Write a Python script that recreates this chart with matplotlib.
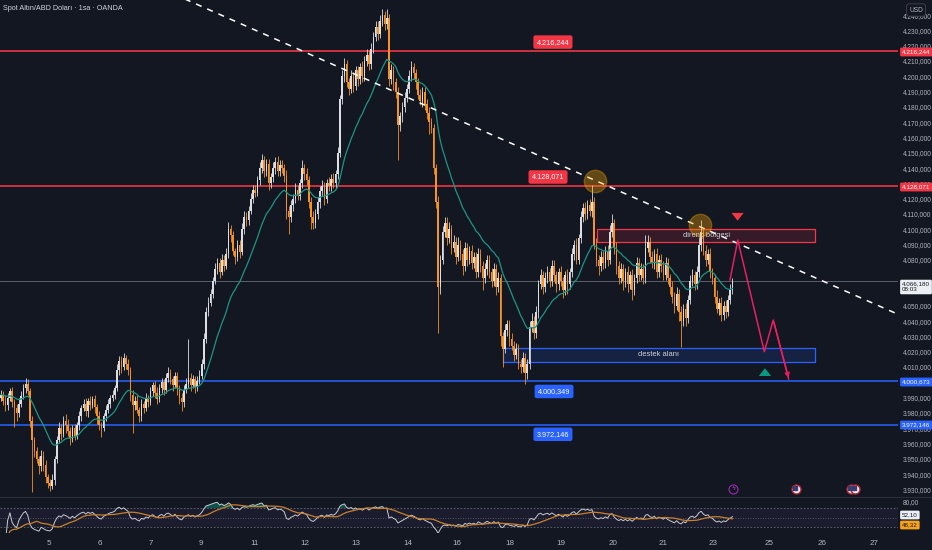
import matplotlib
matplotlib.use("Agg")
import matplotlib.pyplot as plt
import numpy as np
import pandas as pd

plt.rcParams["font.family"] = ["Liberation Sans Narrow", "Liberation Sans", "DejaVu Sans"]

BG = "#131722"
UP = "#dcdee4"
DOWN = "#f7931e"
RED = "#f23645"
BLUE = "#2962ff"
TXT = "#b2b5be"

# hourly closes (one per bar, left to right)
closes = [
    3992, 3988, 3985, 3990, 3994, 3987, 3983, 3980, 3986, 3991,
    3996, 3999, 3994, 3975, 3962, 3955, 3950, 3945, 3952, 3946,
    3938, 3934, 3932, 3936, 3950, 3962, 3970, 3966, 3975, 3972,
    3968, 3963, 3970, 3965, 3972, 3978, 3983, 3986, 3981, 3988,
    3985, 3989, 3984, 3978, 3972, 3970, 3978, 3982, 3986, 3990,
    3992, 3996, 4008, 4014, 4010, 4016, 4012, 4008, 3992, 3985,
    3988, 3982, 3978, 3986, 3983, 3990, 3987, 3994, 3998, 3993,
    3989, 3996, 4000, 3995, 4003, 4006, 4002, 3998, 4004, 3996,
    3990, 3987, 3995, 3999, 4003, 3998, 4002, 3997, 4001, 4004,
    4012, 4028, 4046, 4052, 4058, 4066, 4074, 4078, 4072, 4080,
    4076, 4084, 4100, 4096, 4086, 4082, 4090, 4085, 4100, 4108,
    4106, 4112, 4120, 4126, 4124, 4132, 4140, 4145, 4138, 4143,
    4130, 4134, 4140, 4144, 4138, 4142, 4140, 4135, 4112, 4108,
    4116, 4120, 4126, 4122, 4130, 4140, 4136, 4132, 4118, 4108,
    4104, 4110, 4118, 4125, 4128, 4120, 4130, 4128, 4133, 4130,
    4136, 4150, 4185, 4200, 4208, 4196, 4192, 4200, 4194, 4204,
    4198, 4206, 4200, 4210, 4214, 4208, 4218, 4226, 4232, 4228,
    4236, 4240, 4234, 4238, 4198, 4204, 4196, 4190, 4168, 4174,
    4180, 4186, 4192, 4200, 4206, 4202, 4196, 4188, 4184, 4190,
    4182, 4176, 4170, 4166, 4140, 4118, 4062, 4080, 4098, 4104,
    4094, 4100, 4088, 4092, 4082, 4090, 4084, 4076, 4088, 4080,
    4086, 4078, 4082, 4072, 4084, 4076, 4068, 4074, 4080, 4072,
    4066, 4074, 4062, 4068, 4030, 4022, 4034, 4038, 4028, 4024,
    4018, 4022, 4012, 4010, 4016, 4006, 4012, 4036, 4040, 4032,
    4046, 4064, 4070, 4062, 4068, 4072, 4066, 4076, 4070, 4064,
    4072, 4066, 4060, 4070, 4064, 4072, 4084, 4090, 4080, 4094,
    4108, 4114, 4110, 4116, 4112, 4118, 4090, 4080, 4076, 4082,
    4078, 4086, 4080, 4098, 4104, 4088, 4076, 4068, 4074, 4066,
    4072, 4064, 4070, 4060, 4068, 4078, 4070, 4074, 4068, 4088,
    4092, 4082, 4078, 4084, 4072, 4080, 4076, 4070, 4078, 4068,
    4062, 4056, 4050, 4058, 4046, 4040, 4048, 4042, 4054, 4066,
    4070, 4064, 4072, 4090, 4098, 4086, 4080, 4084, 4072, 4068,
    4056, 4048, 4052, 4044, 4050, 4046, 4054, 4060, 4066.18,
]
first_open = 3990

# wick lengths above / below the body, in dollars
upper_wick = [
    3, 2, 4, 3, 2, 3, 2, 3, 4, 3,
    3, 4, 3, 2, 3, 2, 3, 2, 4, 3,
    3, 2, 3, 4, 2, 3, 4, 3, 3, 4,
    4, 3, 2, 3, 2, 3, 2, 3, 4, 2,
    3, 2, 3, 2, 3, 2, 2, 3, 3, 2,
    3, 2, 4, 3, 3, 3, 2, 3, 2, 3,
    3, 4, 2, 3, 2, 3, 2, 3, 2, 3,
    4, 3, 3, 2, 3, 4, 3, 2, 3, 3,
    2, 3, 3, 4, 25, 3, 3, 2, 3, 4,
    3, 4, 3, 4, 3, 3, 4, 3, 3, 4,
    3, 4, 5, 3, 3, 2, 3, 3, 4, 4,
    3, 3, 4, 3, 3, 3, 4, 4, 3, 3,
    3, 3, 4, 3, 4, 3, 3, 3, 4, 3,
    3, 3, 4, 3, 3, 5, 3, 4, 3, 3,
    4, 3, 3, 3, 4, 3, 3, 4, 3, 4,
    3, 4, 3, 4, 4, 3, 3, 4, 3, 3,
    3, 3, 4, 3, 4, 3, 4, 3, 4, 4,
    4, 4, 3, 6, 3, 4, 3, 3, 3, 3,
    3, 4, 3, 4, 4, 3, 3, 3, 4, 3,
    3, 3, 4, 3, 3, 3, 4, 3, 4, 4,
    4, 5, 3, 4, 3, 5, 3, 3, 4, 3,
    3, 4, 3, 3, 4, 3, 3, 4, 3, 3,
    3, 4, 3, 4, 3, 3, 4, 3, 3, 4,
    3, 4, 3, 3, 4, 3, 3, 4, 5, 3,
    4, 3, 4, 3, 4, 4, 3, 4, 4, 3,
    3, 4, 3, 3, 4, 3, 4, 3, 4, 3,
    4, 3, 4, 3, 4, 11, 3, 4, 3, 4,
    4, 3, 4, 5, 6, 3, 4, 3, 4, 3,
    3, 4, 3, 4, 3, 4, 3, 4, 3, 8,
    4, 3, 4, 3, 4, 3, 4, 3, 4, 3,
    3, 4, 3, 4, 3, 4, 3, 4, 3, 4,
    4, 3, 4, 5, 8, 3, 4, 3, 4, 3,
    3, 4, 3, 4, 3, 4, 3, 4, 2,
]
lower_wick = [
    2, 3, 4, 3, 2, 3, 12, 5, 3, 2,
    2, 3, 2, 4, 34, 4, 3, 5, 3, 4,
    4, 3, 3, 2, 3, 3, 2, 4, 2, 5,
    3, 4, 2, 3, 2, 3, 3, 2, 3, 4,
    3, 2, 4, 5, 3, 6, 2, 3, 2, 3,
    2, 3, 2, 3, 4, 2, 3, 3, 4, 18,
    3, 2, 4, 3, 3, 2, 3, 2, 3, 3,
    3, 2, 3, 3, 2, 3, 3, 4, 2, 4,
    4, 6, 3, 2, 3, 4, 2, 4, 3, 2,
    2, 3, 2, 3, 2, 3, 2, 3, 4, 2,
    3, 2, 3, 4, 3, 5, 3, 4, 2, 3,
    4, 3, 2, 3, 3, 2, 3, 3, 4, 3,
    4, 3, 3, 4, 3, 3, 3, 4, 5, 11,
    3, 4, 3, 3, 3, 3, 4, 3, 4, 8,
    4, 3, 3, 4, 3, 4, 3, 3, 3, 3,
    3, 3, 3, 3, 4, 3, 4, 3, 4, 3,
    4, 3, 4, 3, 3, 4, 3, 3, 3, 4,
    3, 3, 4, 3, 4, 3, 5, 4, 23, 4,
    4, 3, 3, 3, 3, 4, 4, 3, 3, 4,
    4, 4, 8, 3, 4, 4, 30, 4, 3, 3,
    4, 3, 4, 3, 5, 3, 4, 6, 3, 4,
    3, 4, 3, 4, 3, 4, 8, 3, 4, 4,
    4, 3, 5, 3, 6, 12, 3, 4, 4, 3,
    4, 3, 3, 4, 3, 7, 4, 3, 3, 4,
    3, 4, 3, 4, 3, 3, 4, 3, 4, 5,
    4, 3, 5, 3, 6, 3, 3, 4, 3, 3,
    3, 3, 4, 3, 3, 4, 3, 4, 6, 3,
    4, 3, 4, 3, 3, 4, 5, 4, 3, 6,
    4, 5, 3, 6, 3, 3, 4, 3, 4, 3,
    3, 4, 3, 4, 4, 3, 4, 3, 3, 4,
    4, 4, 5, 3, 6, 17, 3, 5, 3, 3,
    3, 4, 3, 3, 4, 3, 4, 3, 4, 4,
    4, 3, 4, 4, 3, 4, 3, 3, 2,
]

# horizontal levels
res_levels = [4216.244, 4128.071]
sup_levels = [4000.673, 3972.146]
last_price = 4066.18

# zones (bar index start/end, price low/high)
res_zone = (267.3, 365.0, 4091.7, 4100.2)
sup_zone = (225.1, 365.0, 4013.3, 4022.4)

# trend line and projected path
trend_x = [-0.5, 402.3]
trend_y = [4304.0, 4044.4]
path_x = [326.9, 330.4, 342.3, 346.3, 353.5]
path_y = [4066.9, 4093.0, 4020.0, 4040.7, 4001.0]

circle_x = [266.4, 313.5]
circle_y = [4131.9, 4103.0]

# price-scale labels hidden under tags in the reference
scale_ticks = [v for v in range(3930, 4241, 10) if v not in (4000, 4060, 4070)]

date_labels = ["5", "6", "7", "9", "11", "12", "13", "14", "16", "18",
               "19", "20", "21", "23", "25", "26", "27"]
date_pos = [21.4, 44.4, 67.4, 89.6, 113.7, 136.4, 159.1, 182.3, 204.5,
            228.0, 251.0, 274.3, 297.0, 319.4, 344.3, 368.1, 391.6]


def tr(v):
    s = f"{v:,.3f}"
    return s.replace(",", "X").replace(".", ",").replace("X", ".")


closes = np.array(closes, dtype=float)
opens = np.concatenate([[first_open], closes[:-1]])
highs = np.maximum(opens, closes) + np.array(upper_wick)
lows = np.minimum(opens, closes) - np.array(lower_wick)
idx = np.arange(len(closes))
up = closes >= opens
cols = np.where(up, UP, DOWN)

s = pd.Series(closes)
ema = s.ewm(span=20, adjust=False).mean()
delta = s.diff().fillna(0)
gain = delta.clip(lower=0).ewm(alpha=1 / 14, adjust=False).mean()
loss = (-delta.clip(upper=0)).ewm(alpha=1 / 14, adjust=False).mean()
rsi = 100 - 100 / (1 + gain / loss.replace(0, 1e-9))
rsi_ma = rsi.rolling(14, min_periods=1).mean()

fig = plt.figure(figsize=(9.32, 5.5), dpi=100, facecolor=BG)
ax = fig.add_axes([0, 53 / 550, 898 / 932, 497 / 550], facecolor=BG)
axr = fig.add_axes([0, 17 / 550, 898 / 932, 36 / 550], facecolor=BG)

XL = (-0.45, 402.24)
ax.set_xlim(*XL)
ax.set_ylim(3925.0, 4249.9)
for a in (ax, axr):
    for sp in a.spines.values():
        sp.set_visible(False)

# candles
ax.vlines(idx, lows, highs, colors=cols, linewidth=0.6, zorder=3)
body = np.maximum(np.abs(closes - opens), 0.5)
ax.bar(idx, body, bottom=np.minimum(opens, closes), width=0.72,
       color=cols, linewidth=0, zorder=4)
ax.plot(idx, ema, color="#1f9486", lw=0.9, zorder=5)

# levels
for lv in res_levels:
    ax.axhline(lv, color=RED, lw=1.3, alpha=0.9, zorder=2)
for lv in sup_levels:
    ax.axhline(lv, color=BLUE, lw=1.1, zorder=2)
ax.axhline(last_price, color="#5d606b", lw=0.7, zorder=1)

# zones
x0, x1, y0, y1 = res_zone
ax.fill_between([x0, x1], y0, y1, color=RED, alpha=0.15, lw=0, zorder=2)
ax.plot([x0, x1, x1, x0, x0], [y0, y0, y1, y1, y0], color=RED, lw=0.9, zorder=2)
ax.text(316.6, (y0 + y1) / 2, "direnç bölgesi", color="#d1d4dc",
        fontsize=5.4, ha="center", va="center", zorder=7)
x0, x1, y0, y1 = sup_zone
ax.fill_between([x0, x1], y0, y1, color=BLUE, alpha=0.15, lw=0, zorder=2)
ax.plot([x0, x1, x1, x0, x0], [y0, y0, y1, y1, y0], color=BLUE, lw=0.9, zorder=2)
ax.text((x0 + x1) / 2, (y0 + y1) / 2, "destek alanı", color="#d1d4dc",
        fontsize=5.4, ha="center", va="center", zorder=7)

# trend line
ax.plot(trend_x, trend_y, color="white", lw=1.1, ls=(0, (4, 4)), zorder=6)

# swing circles
ax.scatter(circle_x, circle_y, s=260, facecolor="#f7a600", alpha=0.35,
           edgecolor="#f7a600", linewidth=1, zorder=6)

# projected path
ax.plot(path_x[:-1] + [path_x[-1] - 0.3], path_y[:-1] + [path_y[-1] + 1.2],
        color="#e91e63", lw=1.1, zorder=7)
ax.annotate("", xy=(path_x[-1], path_y[-1]), xytext=(path_x[-2], path_y[-2]),
            arrowprops=dict(arrowstyle="->", color="#e91e63", lw=1.1,
                            mutation_scale=7), zorder=7)

# block arrows
ax.annotate("", xy=(330.3, 4103.8), xytext=(330.3, 4112.5),
            arrowprops=dict(arrowstyle="simple,head_width=1.1,head_length=0.7,tail_width=0.5",
                            color=RED, mutation_scale=8, lw=0), zorder=7)
ax.annotate("", xy=(342.6, 4011.0), xytext=(342.6, 4003.0),
            arrowprops=dict(arrowstyle="simple,head_width=1.1,head_length=0.7,tail_width=0.5",
                            color="#089981", mutation_scale=8, lw=0), zorder=7)

# in-chart price tags
chart_tags = [(247.5, 4222.4, "4.216,244", RED), (245.3, 4134.2, "4.128,071", RED),
              (248.0, 3994.0, "4.000,349", BLUE), (247.5, 3966.0, "3.972,146", BLUE)]
for tx, ty, tt, tc in chart_tags:
    ax.text(tx, ty, tt, color="white", fontsize=5.2, ha="center", va="center",
            zorder=8, bbox=dict(boxstyle="round,pad=0.45,rounding_size=0.3",
                                fc=tc, ec="none"))

# event icons
ax.scatter([328.3], [3930.3], s=42, facecolor=BG, edgecolor="#9c27b0", lw=0.8, zorder=7)
ax.text(328.3, 3930.3, "ϟ", color="#c150d8", fontsize=4.5, ha="center", va="center",
        zorder=8, family="DejaVu Sans")
for fx in [356.5, 381.2, 383.0]:
    ax.scatter([fx], [3930.3], s=42, facecolor="#f0f0f0", edgecolor="#b22234", lw=1.0, zorder=7)
    ax.scatter([fx - 0.5], [3931.0], s=6, marker="s", color="#3c3b6e", zorder=8)

# price scale
ax.yaxis.tick_right()
ax.set_yticks(scale_ticks)
ax.set_yticklabels([tr(v) for v in scale_ticks])
ax.tick_params(axis="y", length=0, pad=3.2, labelsize=4.7, colors=TXT)
ax.set_xticks([])

# RSI pane
axr.set_xlim(*XL)
axr.set_ylim(17.4, 93.2)
axr.axhspan(30, 70, color="#7e57c2", alpha=0.08, lw=0)
for lv, st in [(70, (0, (2, 2))), (50, (0, (1, 2))), (30, (0, (2, 2)))]:
    axr.axhline(lv, color="#787b86", lw=0.6, ls=st, alpha=0.8)
axr.fill_between(idx, 70, rsi, where=rsi > 70, color="#089981", alpha=0.45,
                 lw=0, interpolate=True)
axr.plot(idx, rsi, color="#c9cbd1", lw=0.7)
axr.plot(idx, rsi_ma, color="#c8802c", lw=0.9)
axr.set_yticks([])
axr.set_xticks(date_pos)
axr.set_xticklabels(date_labels)
axr.tick_params(axis="x", length=0, pad=5, labelsize=5.8, colors=TXT)

# pane separator
fig.add_artist(plt.Line2D([0, 1], [53 / 550, 53 / 550], color="#2a2e39", lw=0.8))

# header
fig.text(3 / 932, 1 - 8 / 550, "Spot Altın/ABD Doları · 1sa · OANDA",
         color="#d1d4dc", fontsize=5.2, va="center")
fig.text(916 / 932, 1 - 10 / 550, "USD", color=TXT, fontsize=4.8, ha="center",
         va="center", bbox=dict(boxstyle="round,pad=0.4", fc=BG, ec="#434651", lw=0.6))


def axis_tag(ypx, text, fc, tc="white", size=4.6):
    fig.text(902 / 932, 1 - ypx / 550, text, color=tc, fontsize=size, ha="left",
             va="center", bbox=dict(boxstyle="round,pad=0.3,rounding_size=0.2",
                                    fc=fc, ec="none"))


axis_tag(52, tr(res_levels[0]), RED)
axis_tag(187, tr(res_levels[1]), RED)
axis_tag(382, tr(sup_levels[0]), BLUE)
axis_tag(425, tr(sup_levels[1]), BLUE)
axis_tag(287, tr(last_price) + "\n08:03", "#eceff4", tc="#131722", size=4.5)
fig.text(903 / 932, 1 - 503 / 550, "80,00", color=TXT, fontsize=4.7, va="center")
axis_tag(515, "52,10", "#eceff4", tc="#131722", size=4.5)
axis_tag(525, "48,32", "#f7a21b", tc="#131722", size=4.5)

fig.savefig("out.png", dpi=100, facecolor=BG)
